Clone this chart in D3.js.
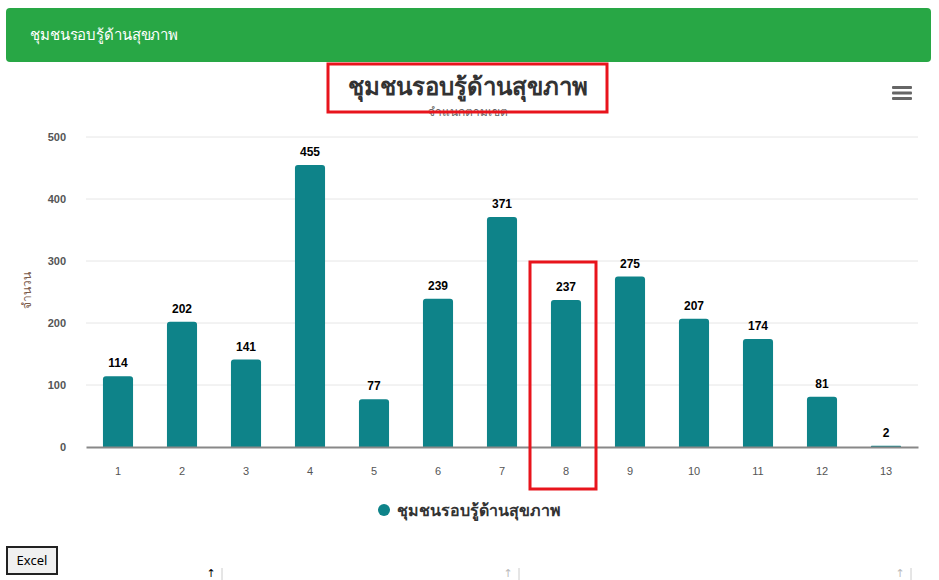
<!DOCTYPE html>
<html>
<head>
<meta charset="utf-8">
<script src="https://cdn.jsdelivr.net/npm/d3@7"></script>
<style>
  body { margin: 0; background: #fff; font-family: "Noto Sans", "DejaVu Sans", sans-serif; }
</style>
</head>
<body>
<script>
// Chart data
var categories = ["1", "2", "3", "4", "5", "6", "7", "8", "9", "10", "11", "12", "13"];
var values = [114, 202, 141, 455, 77, 239, 371, 237, 275, 207, 174, 81, 2];
var yTicks = [0, 100, 200, 300, 400, 500];
var seriesName = "ชุมชนรอบรู้ด้านสุขภาพ";
var titleText = "ชุมชนรอบรู้ด้านสุขภาพ";
var subtitleText = "จำแนกตามเขต";
var yTitle = "จำนวน";

var W = 939, H = 580;
var plot = {left: 86, right: 918, top: 137, bottom: 447};
var barColor = "#0e8389";

var svg = d3.select("body").append("svg")
    .attr("width", W)
    .attr("height", H);

// Green header panel
svg.append("rect")
   .attr("x", 6).attr("y", 8)
   .attr("width", 925).attr("height", 54)
   .attr("rx", 4)
   .attr("fill", "#28a745");
svg.append("text")
   .attr("x", 30).attr("y", 40)
   .attr("fill", "#fff")
   .style("font-size", "15px")
   .attr("textLength", 148)
   .text(titleText);

// Scales
var x = d3.scaleBand()
    .domain(categories)
    .range([plot.left, plot.right])
    .paddingInner(0.53)
    .paddingOuter(0.265);

var y = d3.scaleLinear()
    .domain([0, 500])
    .range([plot.bottom, plot.top]);

// Gridlines
svg.append("g")
   .selectAll("line")
   .data(yTicks.slice(1))
   .enter().append("line")
   .attr("x1", plot.left).attr("x2", plot.right)
   .attr("y1", function(d) { return y(d); })
   .attr("y2", function(d) { return y(d); })
   .attr("stroke", "#e6e6e6");

// Y axis labels
var yAxis = d3.axisLeft(y).tickValues(yTicks).tickSize(0).tickPadding(20);
var gy = svg.append("g")
   .attr("transform", "translate(" + plot.left + ",0)")
   .call(yAxis);
gy.select(".domain").remove();
gy.selectAll("text")
  .attr("fill", "#555")
  .style("font-size", "11px")
  .style("font-weight", "bold")
  .style("font-family", "'Liberation Sans', Arial, sans-serif");

// Y title
svg.append("text")
   .attr("transform", "translate(31,290) rotate(-90)")
   .attr("text-anchor", "middle")
   .attr("fill", "#7a5a4a")
   .style("font-size", "12px")
   .text(yTitle);

// Bars
svg.append("g")
   .selectAll("path")
   .data(values)
   .enter().append("path")
   .attr("d", function(d, i) {
     var x0 = x(categories[i]), w = x.bandwidth();
     var y0 = y(d), r = Math.min(3, (plot.bottom - y0) / 2);
     return "M" + x0 + "," + plot.bottom +
            "V" + (y0 + r) + "Q" + x0 + "," + y0 + " " + (x0 + r) + "," + y0 +
            "H" + (x0 + w - r) + "Q" + (x0 + w) + "," + y0 + " " + (x0 + w) + "," + (y0 + r) +
            "V" + plot.bottom + "Z";
   })
   .attr("fill", barColor);

// X axis
var xAxis = d3.axisBottom(x).tickSize(0).tickPadding(20);
var gx = svg.append("g")
   .attr("transform", "translate(0," + plot.bottom + ")")
   .call(xAxis);
gx.select(".domain").attr("stroke", "#888").attr("stroke-width", 2);
gx.selectAll("text")
  .attr("fill", "#555")
  .style("font-size", "11px")
  .style("font-family", "'Liberation Sans', Arial, sans-serif");

// Data labels
svg.append("g")
   .selectAll("text")
   .data(values)
   .enter().append("text")
   .attr("x", function(d, i) { return x(categories[i]) + x.bandwidth() / 2; })
   .attr("y", function(d) { return y(d) - 9; })
   .attr("text-anchor", "middle")
   .attr("fill", "#000")
   .style("font-size", "12px")
   .style("font-weight", "bold")
   .style("font-family", "'Liberation Sans', Arial, sans-serif")
   .text(function(d) { return d; });

// Title and subtitle
svg.append("text")
   .attr("x", 468).attr("y", 116)
   .attr("text-anchor", "middle")
   .attr("fill", "#666")
   .style("font-size", "12px")
   .text(subtitleText);
svg.append("text")
   .attr("x", 468).attr("y", 95)
   .attr("text-anchor", "middle")
   .attr("fill", "#333")
   .style("font-size", "24px")
   .style("font-weight", "bold")
   .text(titleText);

// Red highlight boxes
svg.append("rect")
   .attr("x", 328).attr("y", 64)
   .attr("width", 279).attr("height", 48)
   .attr("fill", "none")
   .attr("stroke", "#e8141c").attr("stroke-width", 3);
var c8 = x("8") + x.bandwidth() / 2;
svg.append("rect")
   .attr("x", c8 - 36).attr("y", 262)
   .attr("width", 66).attr("height", 227)
   .attr("fill", "none")
   .attr("stroke", "#e8141c").attr("stroke-width", 3);

// Hamburger menu
svg.append("g")
   .selectAll("rect")
   .data([0, 1, 2])
   .enter().append("rect")
   .attr("x", 892).attr("y", function(d) { return 86 + d * 5.5; })
   .attr("width", 20).attr("height", 3)
   .attr("rx", 1)
   .attr("fill", "#666");

// Legend
svg.append("circle")
   .attr("cx", 384).attr("cy", 510).attr("r", 6)
   .attr("fill", barColor);
svg.append("text")
   .attr("x", 397).attr("y", 516)
   .attr("fill", "#333")
   .style("font-size", "16px")
   .style("font-weight", "bold")
   .text(seriesName);

// Excel button
svg.append("rect")
   .attr("x", 7).attr("y", 547)
   .attr("width", 50).attr("height", 27)
   .attr("fill", "#f0f0f0")
   .attr("stroke", "#222").attr("stroke-width", 2);
svg.append("text")
   .attr("x", 32).attr("y", 565)
   .attr("text-anchor", "middle")
   .attr("fill", "#000")
   .style("font-size", "13px")
   .text("Excel");

// Table header sort arrows
var arrows = [{x: 211, c: "#000"}, {x: 508, c: "#bbb"}, {x: 900, c: "#bbb"}];
svg.append("g")
   .selectAll("text")
   .data(arrows)
   .enter().append("text")
   .attr("x", function(d) { return d.x; })
   .attr("y", 577)
   .attr("text-anchor", "middle")
   .attr("fill", function(d) { return d.c; })
   .style("font-size", "11px")
   .text("↑");
svg.append("g")
   .selectAll("line")
   .data(arrows)
   .enter().append("line")
   .attr("x1", function(d) { return d.x + 11; })
   .attr("x2", function(d) { return d.x + 11; })
   .attr("y1", 568).attr("y2", 580)
   .attr("stroke", "#ccc");
</script>
</body>
</html>
